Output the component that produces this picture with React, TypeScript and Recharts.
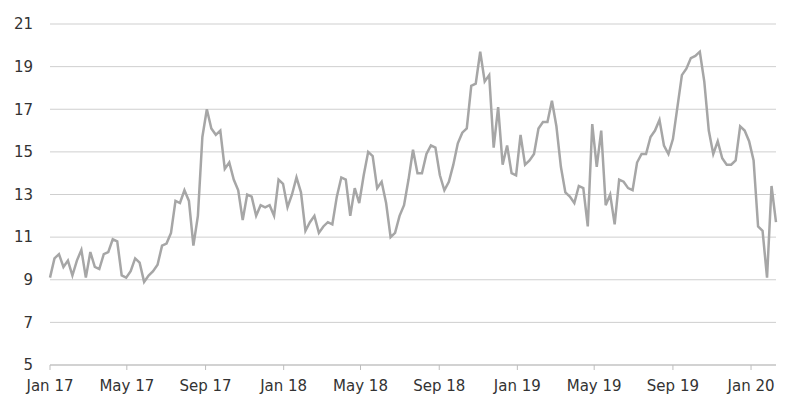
import { LineChart, Line, XAxis, YAxis, CartesianGrid } from "recharts";

// weekly observations, first week of Jan 2017 onwards
const values = [
  9.1, 10.0, 10.2, 9.6, 9.9, 9.2, 9.9, 10.4, 9.1, 10.3, 9.6, 9.5, 10.2, 10.3, 10.9, 10.8,
  9.2, 9.1, 9.4, 10.0, 9.8, 8.9, 9.2, 9.4, 9.7, 10.6, 10.7, 11.2, 12.7, 12.6, 13.2, 12.7,
  10.6, 12.0, 15.7, 17.0, 16.1, 15.8, 16.0, 14.2, 14.5, 13.7, 13.2, 11.8, 13.0, 12.9, 12.0, 12.5,
  12.4, 12.5, 12.0, 13.7, 13.5, 12.4, 13.0, 13.8, 13.1, 11.3, 11.7, 12.0, 11.2, 11.5, 11.7, 11.6,
  12.9, 13.8, 13.7, 12.0, 13.3, 12.6, 13.9, 15.0, 14.8, 13.3, 13.6, 12.6, 11.0, 11.2, 12.0, 12.5,
  13.7, 15.1, 14.0, 14.0, 14.9, 15.3, 15.2, 13.9, 13.2, 13.6, 14.4, 15.4, 15.9, 16.1, 18.1, 18.2,
  19.7, 18.3, 18.6, 15.2, 17.1, 14.4, 15.3, 14.0, 13.9, 15.8, 14.4, 14.6, 14.9, 16.1, 16.4, 16.4,
  17.4, 16.2, 14.3, 13.1, 12.9, 12.6, 13.4, 13.3, 11.5, 16.3, 14.3, 16.0, 12.5, 13.0, 11.6, 13.7,
  13.6, 13.3, 13.2, 14.5, 14.9, 14.9, 15.7, 16.0, 16.5, 15.3, 14.9, 15.6, 17.1, 18.6, 18.9, 19.4,
  19.5, 19.7, 18.3, 16.0, 14.9, 15.5, 14.7, 14.4, 14.4, 14.6, 16.2, 16.0, 15.5, 14.6, 11.5, 11.3,
  9.1, 13.4, 11.7,
];

// days since 1 Jan 2017
const tickDays = [0, 120, 243, 365, 485, 608, 730, 850, 973, 1095];
const tickLabels = ["Jan 17", "May 17", "Sep 17", "Jan 18", "May 18", "Sep 18", "Jan 19", "May 19", "Sep 19", "Jan 20"];
const yTicks = [5, 7, 9, 11, 13, 15, 17, 19, 21];

const data = values.map((v, i) => ({ day: i * 7, value: v }));

const axisTick = { fontSize: 15, fill: "#333", fontFamily: "DejaVu Sans, sans-serif" };

export default function App() {
  return (
    <LineChart width={792} height={404} data={data} margin={{ top: 16, right: 24, left: 0, bottom: 0 }}>
      <CartesianGrid vertical={false} stroke="#cfcfcf" />
      <XAxis
        dataKey="day"
        type="number"
        domain={[0, 1134]}
        ticks={tickDays}
        tickFormatter={(d: number) => tickLabels[tickDays.indexOf(d)]}
        tick={axisTick}
        stroke="#bdbdbd"
        tickSize={5}
        tickMargin={10}
        height={47}
        interval={0}
      />
      <YAxis
        domain={[5, 21]}
        ticks={yTicks}
        tick={axisTick}
        axisLine={false}
        tickLine={false}
        tickMargin={11}
        width={42}
        interval={0}
      />
      <Line
        type="linear"
        dataKey="value"
        stroke="#a6a6a6"
        strokeWidth={2.5}
        dot={false}
        isAnimationActive={false}
      />
    </LineChart>
  );
}
